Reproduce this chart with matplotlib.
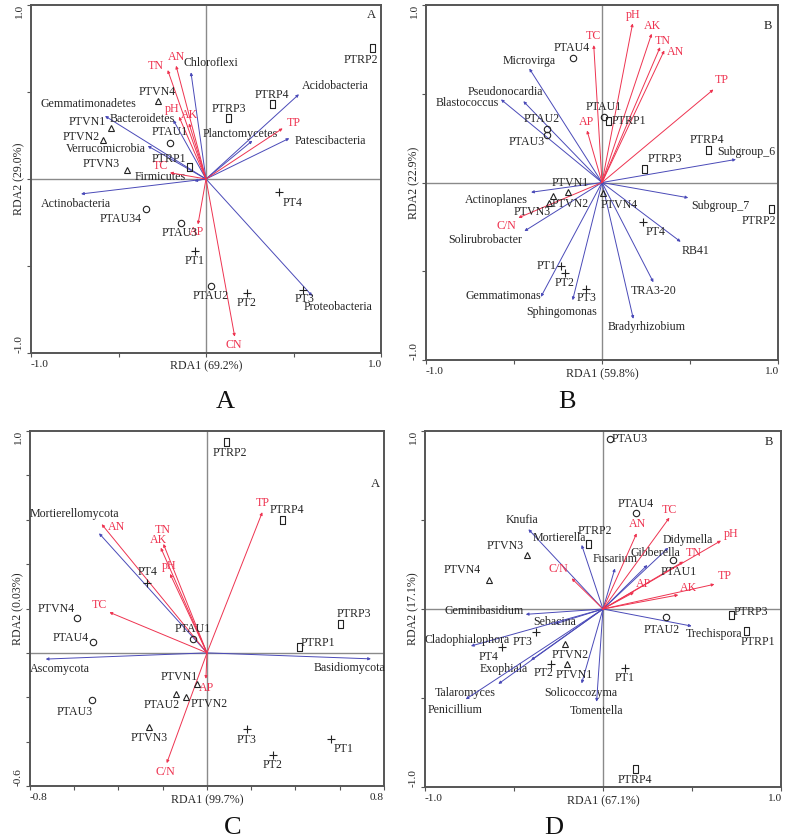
import numpy as np
import matplotlib
matplotlib.use("Agg")
from matplotlib import pyplot as plt

plt.rcParams['font.family'] = ['Liberation Serif', 'DejaVu Serif']

# ---------------- panel A (bacteria, phylum) ----------------
a_sites = ['PTRP2', 'PTRP4', 'PTRP3', 'PTVN4', 'PTVN1', 'PTVN2', 'PTAU1', 'PTRP1',
           'PTVN3', 'PT4', 'PTAU34', 'PTAU3', 'PT1', 'PTAU2', 'PT2', 'PT3']
a_site_x = [0.951, 0.375, 0.128, -0.274, -0.543, -0.587, -0.206, -0.095,
            -0.450, 0.419, -0.343, -0.143, -0.063, 0.027, 0.232, 0.556]
a_site_y = [0.755, 0.429, 0.352, 0.448, 0.295, 0.224, 0.205, 0.071,
            0.052, -0.076, -0.174, -0.255, -0.414, -0.615, -0.657, -0.638]
a_site_grp = ['RP', 'RP', 'RP', 'VN', 'VN', 'VN', 'AU', 'RP',
              'VN', 'T', 'AU', 'AU', 'T', 'AU', 'T', 'T']
a_env = ['TN', 'AN', 'pH', 'AK', 'TP', 'TC', 'AP', 'CN']
a_env_x = [-0.219, -0.171, -0.154, -0.097, 0.438, -0.206, -0.046, 0.164]
a_env_y = [0.626, 0.651, 0.358, 0.320, 0.291, 0.036, -0.261, -0.906]
a_taxa = ['Chloroflexi', 'Acidobacteria', 'Gemmatimonadetes', 'Bacteroidetes',
          'Verrucomicrobia', 'Planctomycetes', 'Patescibacteria', 'Firmicutes',
          'Actinobacteria', 'Proteobacteria']
a_taxa_x = [-0.086, 0.531, -0.577, -0.187, -0.333, 0.265, 0.476, -0.067, -0.714, 0.607]
a_taxa_y = [0.613, 0.487, 0.362, 0.339, 0.190, 0.220, 0.234, -0.011, -0.086, -0.672]

# ---------------- panel B (bacteria, genus) ----------------
b_sites = ['PTAU4', 'PTAU1', 'PTRP1', 'PTAU2', 'PTAU3', 'PTRP4', 'PTRP3', 'PTVN1',
           'PTVN2', 'PTVN3', 'PTVN4', 'PTRP2', 'PT4', 'PT1', 'PT2', 'PT3']
b_site_x = [-0.167, 0.011, 0.032, -0.311, -0.311, 0.604, 0.241, -0.191,
            -0.276, -0.301, 0.008, 0.958, 0.235, -0.233, -0.210, -0.091]
b_site_y = [0.699, 0.370, 0.345, 0.299, 0.270, 0.182, 0.077, -0.055,
            -0.077, -0.118, -0.058, -0.148, -0.223, -0.468, -0.509, -0.599]
b_site_grp = ['AU', 'AU', 'RP', 'AU', 'AU', 'RP', 'RP', 'VN',
              'VN', 'VN', 'VN', 'RP', 'T', 'T', 'T', 'T']
b_env = ['pH', 'AK', 'TN', 'AN', 'TC', 'TP', 'AP', 'C/N']
b_env_x = [0.174, 0.282, 0.330, 0.354, -0.047, 0.633, -0.085, -0.475]
b_env_y = [0.896, 0.838, 0.762, 0.744, 0.774, 0.524, 0.293, -0.199]
b_taxa = ['Microvirga', 'Pseudonocardia', 'Blastococcus', 'Subgroup_6', 'Actinoplanes',
          'Subgroup_7', 'Solirubrobacter', 'RB41', 'TRA3-20', 'Gemmatimonas',
          'Sphingomonas', 'Bradyrhizobium']
b_taxa_x = [-0.413, -0.447, -0.574, 0.761, -0.403, 0.490, -0.441, 0.447, 0.292, -0.347, -0.167, 0.178]
b_taxa_y = [0.642, 0.458, 0.468, 0.130, -0.055, -0.086, -0.274, -0.334, -0.562, -0.644, -0.663, -0.768]

# ---------------- panel C (fungi, phylum) ----------------
c_sites = ['PTRP2', 'PTRP4', 'PT4', 'PTVN4', 'PTRP3', 'PTAU4', 'PTAU1', 'PTRP1',
           'PTVN1', 'PTAU2', 'PTVN2', 'PTAU3', 'PTVN3', 'PT3', 'PT1', 'PT2']
c_site_x = [0.084, 0.338, -0.270, -0.589, 0.601, -0.514, -0.062, 0.416,
            -0.047, -0.140, -0.096, -0.521, -0.261, 0.179, 0.560, 0.297]
c_site_y = [0.949, 0.599, 0.314, 0.156, 0.131, 0.047, 0.062, 0.026,
            -0.140, -0.186, -0.197, -0.212, -0.336, -0.344, -0.389, -0.459]
c_site_grp = ['RP', 'RP', 'T', 'AU', 'RP', 'AU', 'AU', 'RP',
              'VN', 'VN', 'VN', 'AU', 'VN', 'T', 'T', 'T']
c_env = ['AN', 'TN', 'AK', 'pH', 'TC', 'TP', 'AP', 'C/N']
c_env_x = [-0.476, -0.197, -0.209, -0.167, -0.441, 0.250, -0.005, -0.182]
c_env_y = [0.580, 0.491, 0.474, 0.356, 0.183, 0.634, -0.117, -0.497]
c_taxa = ['Mortierellomycota', 'Ascomycota', 'Basidiomycota']
c_taxa_x = [-0.488, -0.729, 0.741]
c_taxa_y = [0.539, -0.028, -0.027]

# ---------------- panel D (fungi, genus) ----------------
d_sites = ['PTAU3', 'PTAU4', 'PTRP2', 'PTVN3', 'PTAU1', 'PTVN4', 'PTRP3', 'PTAU2',
           'PTRP1', 'PT3', 'PT4', 'PTVN2', 'PT2', 'PTVN1', 'PT1', 'PTRP4']
d_site_x = [0.039, 0.184, -0.082, -0.425, 0.391, -0.639, 0.719, 0.352,
            0.803, -0.376, -0.569, -0.213, -0.292, -0.204, 0.124, 0.180]
d_site_y = [0.953, 0.541, 0.365, 0.303, 0.275, 0.163, -0.034, -0.043,
            -0.124, -0.127, -0.212, -0.197, -0.309, -0.309, -0.333, -0.899]
d_site_grp = ['AU', 'AU', 'RP', 'VN', 'AU', 'VN', 'RP', 'AU',
              'RP', 'T', 'T', 'VN', 'T', 'VN', 'T', 'RP']
d_env = ['TC', 'AN', 'pH', 'TN', 'C/N', 'AP', 'TP', 'AK']
d_env_x = [0.373, 0.189, 0.663, 0.451, -0.176, 0.174, 0.626, 0.423]
d_env_y = [0.513, 0.425, 0.384, 0.266, 0.172, 0.094, 0.139, 0.079]
d_taxa = ['Knufia', 'Mortierella', 'Didymella', 'Gibberella', 'Fusarium', 'Geminibasidium',
          'Sebacina', 'Cladophialophora', 'Exophiala', 'Talaromyces', 'Penicillium',
          'Solicoccozyma', 'Tomentella', 'Trechispora']
d_taxa_x = [-0.419, -0.120, 0.367, 0.249, 0.067, -0.434, -0.270, -0.742, -0.404, -0.588,
            -0.771, -0.120, -0.036, 0.498]
d_taxa_y = [0.448, 0.360, 0.344, 0.247, 0.228, -0.030, -0.084, -0.208, -0.287, -0.421,
            -0.507, -0.418, -0.521, -0.096]

# label offsets in pixels (dx right, dy up) from the point / arrow tip
a_site_off = [(-12, -12), (0, 9), (0, 9), (-1, 9), (-24, 6), (-22, 3), (0, 11), (-20, 8),
              (-26, 6), (13, -11), (-25, -10), (-1, -10), (0, -10), (0, -10), (0, -10), (1, -9)]
a_env_off = [(-12, 4), (0, 9), (-7, 8), (0, 8), (11, 5), (-10, 7), (-1, -8), (-1, -8)]
a_taxa_off = [(20, 9), (36, 8), (-17, 12), (-31, 1), (-42, -3), (-12, 7), (41, -3), (-34, 4),
              (-5, -10), (26, -11)]

b_site_off = [(-1, 10), (0, 10), (21, 0), (-6, 10), (-21, -7), (-1, 10), (20, 10), (2, 9),
              (17, -8), (-17, -9), (16, -12), (-12, -12), (12, -10), (-14, 0), (0, -10), (1, -9)]
b_env_off = [(1, 8), (1, 8), (3, 6), (11, -2), (0, 9), (8, 9), (-1, 8), (-12, -8)]
b_taxa_off = [(0, 8), (-18, 9), (-34, -4), (10, 7), (-35, -8), (32, -8), (-39, -9), (15, -9),
              (0, -9), (-38, 1), (-11, -12), (13, -8)]

c_site_off = [(4, -11), (5, 10), (0, 11), (-20, 9), (14, 10), (-23, 4), (-1, 10), (19, 4),
              (-17, 7), (-14, -11), (23, -7), (-17, -12), (0, -11), (0, -11), (13, -10), (0, -10)]
c_env_off = [(15, -3), (-1, 14), (-2, 8), (-1, 8), (-10, 7), (0, 9), (1, -9), (-1, -9)]
c_taxa_off = [(-25, 19), (14, -10), (-21, -9)]

d_site_off = [(20, 0), (0, 9), (6, 13), (-22, 9), (6, -12), (-27, 10), (20, 3), (-4, -13),
              (12, -11), (-14, -10), (-13, -10), (5, -11), (-7, -9), (8, -11), (0, -10), (0, -11)]
d_env_off = [(0, 8), (1, 9), (10, 7), (10, 9), (-13, 9), (10, 8), (10, 8), (10, 7)]
d_taxa_off = [(-6, 9), (-22, 7), (19, 8), (8, 12), (0, 9), (-42, 3), (0, 2), (-4, 6), (-27, -9),
              (-33, -9), (-11, -11), (-1, -10), (0, -9), (22, -8)]

RED = '#ee3350'
BLUE = '#4a4ab8'
TXT = '#262626'
FS = 8.6

rect = [(-0.3, -0.5), (0.3, -0.5), (0.3, 0.5), (-0.3, 0.5), (-0.3, -0.5)]
markers = {'RP': (rect, 6.0), 'VN': ('^', 4.6), 'AU': ('o', 4.6), 'T': ('+', 6.0)}


def panel(ax, sites, sx, sy, sgrp, soff, env, ex, ey, eoff, taxa, tx, ty, toff,
          lim_x, lim_y, step, xlab, ylab, corner):
    ax.set_xlim(lim_x)
    ax.set_ylim(lim_y)
    ax.axhline(0, color='#8a8a8a', lw=1.0, zorder=1)
    ax.axvline(0, color='#8a8a8a', lw=1.0, zorder=1)

    for name, x, y, off in zip(taxa, tx, ty, toff):
        ax.annotate('', xy=(x, y), xytext=(0, 0),
                    arrowprops=dict(arrowstyle='-|>', color=BLUE, lw=0.7,
                                    mutation_scale=4, shrinkA=0, shrinkB=0))
        ax.annotate(name, (x, y), xytext=off, textcoords='offset pixels',
                    ha='center', va='center', fontsize=FS, color=TXT)

    for name, x, y, off in zip(env, ex, ey, eoff):
        ax.annotate('', xy=(x, y), xytext=(0, 0),
                    arrowprops=dict(arrowstyle='-|>', color=RED, lw=0.7,
                                    mutation_scale=4, shrinkA=0, shrinkB=0))
        ax.annotate(name, (x, y), xytext=off, textcoords='offset pixels',
                    ha='center', va='center', fontsize=FS, color=RED)

    for name, x, y, g, off in zip(sites, sx, sy, sgrp, soff):
        m, ms = markers[g]
        ax.plot(x, y, marker=m, ms=ms, mfc='none', mec='#222222', mew=0.8,
                ls='none', zorder=4)
        ax.annotate(name, (x, y), xytext=off, textcoords='offset pixels',
                    ha='center', va='center', fontsize=FS, color=TXT)

    xt = np.arange(lim_x[0], lim_x[1] + step[0] / 2, step[0])
    yt = np.arange(lim_y[0], lim_y[1] + step[1] / 2, step[1])
    ax.set_xticks(xt)
    ax.set_yticks(yt)
    ax.set_xticklabels(['%.1f' % lim_x[0]] + [''] * (len(xt) - 2) + ['%.1f' % lim_x[1]])
    ax.set_yticklabels(['%.1f' % lim_y[0]] + [''] * (len(yt) - 2) + ['%.1f' % lim_y[1]],
                       rotation=90)
    xl = ax.get_xticklabels()
    xl[0].set_ha('left')
    xl[-1].set_ha('right')
    yl = ax.get_yticklabels()
    yl[0].set_va('bottom')
    yl[-1].set_va('top')
    ax.tick_params(direction='out', length=3, width=0.8, color='#555555',
                   labelsize=8.2, labelcolor=TXT, pad=2)
    for s in ax.spines.values():
        s.set_color('#555555')
        s.set_linewidth(1.4)
    ax.text(0.5, -0.022, xlab, transform=ax.transAxes, ha='center', va='top',
            fontsize=FS, color=TXT)
    ax.annotate(ylab, (0, 0.5), xycoords='axes fraction', xytext=(-12, 0),
                textcoords='offset pixels', ha='center', va='center',
                rotation=90, fontsize=FS, color=TXT)
    ax.text(corner[1], corner[2], corner[0], transform=ax.transAxes, ha='center',
            va='center', fontsize=FS + 0.5, color=TXT)


W, H = 791, 839
fig = plt.figure(figsize=(W / 100, H / 100), dpi=100)


def box(l, r, t, b):
    return [l / W, 1 - b / H, (r - l) / W, (b - t) / H]


axA = fig.add_axes(box(31, 381, 5, 353))
axB = fig.add_axes(box(426, 778, 5, 360))
axC = fig.add_axes(box(30, 384, 431, 786))
axD = fig.add_axes(box(425, 781, 431, 787))

panel(axA, a_sites, a_site_x, a_site_y, a_site_grp, a_site_off,
      a_env, a_env_x, a_env_y, a_env_off, a_taxa, a_taxa_x, a_taxa_y, a_taxa_off,
      (-1.0, 1.0), (-1.0, 1.0), (0.5, 0.5), 'RDA1 (69.2%)', 'RDA2 (29.0%)',
      ('A', 0.972, 0.97))
panel(axB, b_sites, b_site_x, b_site_y, b_site_grp, b_site_off,
      b_env, b_env_x, b_env_y, b_env_off, b_taxa, b_taxa_x, b_taxa_y, b_taxa_off,
      (-1.0, 1.0), (-1.0, 1.0), (0.5, 0.5), 'RDA1 (59.8%)', 'RDA2 (22.9%)',
      ('B', 0.972, 0.94))
panel(axC, c_sites, c_site_x, c_site_y, c_site_grp, c_site_off,
      c_env, c_env_x, c_env_y, c_env_off, c_taxa, c_taxa_x, c_taxa_y, c_taxa_off,
      (-0.8, 0.8), (-0.6, 1.0), (0.2, 0.2), 'RDA1 (99.7%)', 'RDA2 (0.03%)',
      ('A', 0.975, 0.85))
panel(axD, d_sites, d_site_x, d_site_y, d_site_grp, d_site_off,
      d_env, d_env_x, d_env_y, d_env_off, d_taxa, d_taxa_x, d_taxa_y, d_taxa_off,
      (-1.0, 1.0), (-1.0, 1.0), (0.5, 0.5), 'RDA1 (67.1%)', 'RDA2 (17.1%)',
      ('B', 0.965, 0.97))

for letter, px, py in [('A', 225, 402), ('B', 567, 402), ('C', 233, 828), ('D', 554, 828)]:
    fig.text(px / W, 1 - py / H, letter, ha='center', va='center', fontsize=19, color='#111111')

fig.savefig('out.png', dpi=100)
